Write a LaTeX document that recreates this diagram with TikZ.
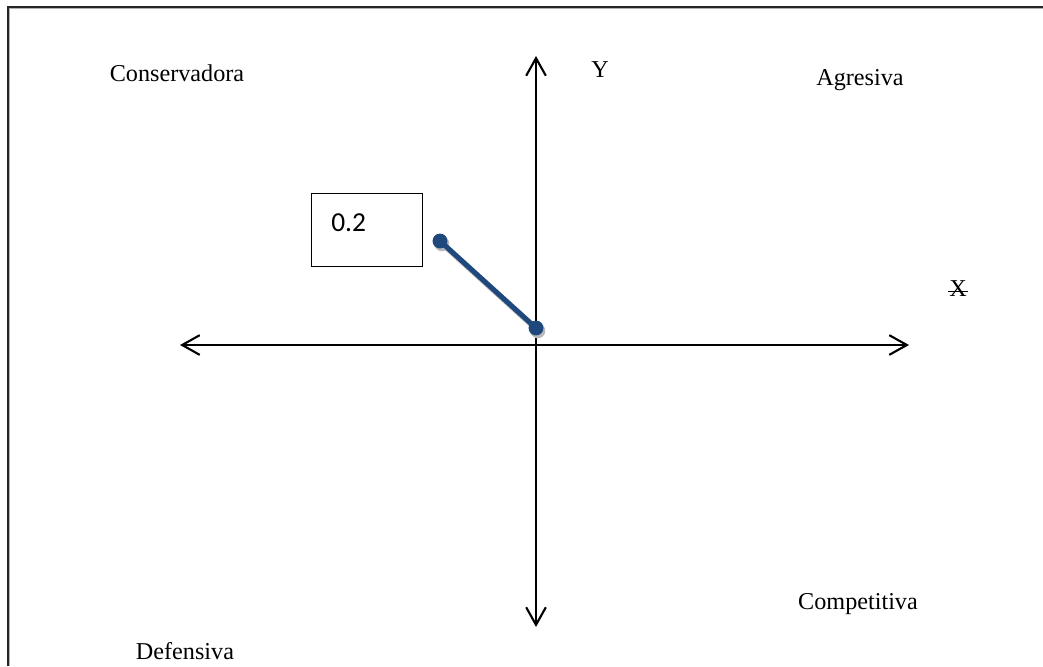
\documentclass[tikz,border=0pt]{standalone}
\usepackage{fontspec}
\setmainfont{Liberation Serif}
\newfontfamily\boxfont{Carlito}
\usetikzlibrary{arrows.meta}
\definecolor{seriesblue}{RGB}{31,73,125}
\tikzset{axis/.style={{Straight Barb[length=12.5pt,width=14pt]}-{Straight Barb[length=12.5pt,width=14pt]},line width=1.5pt},
 quadrant/.style={font=\fontsize{17.2}{20}\selectfont,inner sep=0pt},
 every node/.style={font=\small}}
\begin{document}
\begin{tikzpicture}[x=0.025cm,y=-0.025cm,
 valuebox/.style={draw,line width=0.6pt,minimum width=79.4pt,minimum height=51.8pt,inner sep=0pt},
 shade/.style={gray!55,transform canvas={shift={(1.3pt,-2pt)}}}]
\useasboundingbox (0,0) rectangle (1043,666);
\draw[line width=0.7pt,gray!60] (9.6,666) |- (1043,8.6);
\draw[line width=1.6pt,black!85] (8,666) |- (1043,7);
\coordinate (W) at (180,345);
\coordinate (E) at (909,345);
\coordinate (N) at (536,56);
\coordinate (S) at (536,627);
\draw[axis] (W) -- (E);
\draw[axis] (N) -- (S);
\node[quadrant] (cons) at (177,73) {Conservadora};
\node[quadrant] (ylab) at (600,70) {Y};
\node[quadrant] (agre) at (860,80) {Agresiva};
\node[quadrant] (xlab) at (958,289) {X};
\draw[line width=0.8pt] ([xshift=-0.5pt,yshift=-1.5pt]xlab.west) -- ([xshift=0.5pt,yshift=-1.5pt]xlab.east);
\node[quadrant] (defe) at (185,651) {Defensiva};
\node[quadrant] (comp) at (858,604) {Competitiva};
\node[valuebox] (val) at (367,229.5) {};
\node[font=\boxfont\fontsize{19.5}{22}\selectfont,inner sep=0pt,anchor=north west] (valtext) at (331,213) {0.2};
\coordinate (p1) at (440,241);
\coordinate (p0) at (536,328);
\draw[shade,line width=3.6pt] (p1) -- (p0);
\fill[shade] (p1) circle (5.3pt) (p0) circle (5.3pt);
\draw[seriesblue,line width=3.6pt] (p1) -- (p0);
\fill[seriesblue] (p1) circle (5.3pt) (p0) circle (5.3pt);
\end{tikzpicture}
\end{document}
